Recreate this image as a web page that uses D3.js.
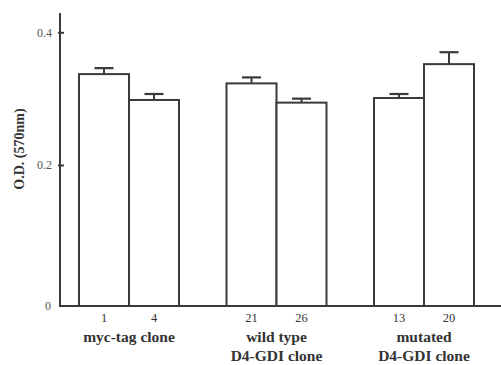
<!DOCTYPE html>
<html>
<head>
<meta charset="utf-8">
<script src="https://cdn.jsdelivr.net/npm/d3@7"></script>
<style>
html,body{margin:0;padding:0;background:#fff;}
svg{display:block;}
text{font-family:"Liberation Serif","DejaVu Serif",serif;}
</style>
</head>
<body>
<svg id="chart" width="501" height="365"></svg>
<script>
// Data
const groups = ["myc-tag clone", "wild type\nD4-GDI clone", "mutated\nD4-GDI clone"];
const clones = [["1", "4"], ["21", "26"], ["13", "20"]];
const values = [[0.337, 0.298], [0.323, 0.294], [0.301, 0.352]];
const errors = [[0.009, 0.009], [0.009, 0.006], [0.006, 0.018]];
const yTicks = [0, 0.2, 0.4];
const yTickLabels = ["0", "0.2", "0.4"];
const yLabel = "O.D. (570nm)";

const svg = d3.select("#chart");
const stroke = "#3a3a3a";
const textColor = "#333333";

// y scale (figure axis is slightly broken near zero; piecewise linear)
const y = d3.scaleLinear().domain([0, 0.2, 0.4]).range([306, 165, 32.3]);
const x0 = d3.scaleBand().domain(d3.range(groups.length)).range([79, 474]).paddingInner(0.322).paddingOuter(0);
const x1 = d3.scaleBand().domain([0, 1]).range([0, x0.bandwidth()]).padding(0);

const bars = [];
groups.forEach((g, gi) => {
  values[gi].forEach((v, bi) => {
    bars.push({gi, bi, v, e: errors[gi][bi], label: clones[gi][bi]});
  });
});

// error bars
const capW = 19;
svg.append("g").selectAll("g").data(bars).join("g").each(function(d) {
  const cx = x0(d.gi) + x1(d.bi) + x1.bandwidth() / 2;
  const g = d3.select(this);
  g.append("line").attr("x1", cx).attr("x2", cx).attr("y1", y(d.v)).attr("y2", y(d.v + d.e))
    .attr("stroke", stroke).attr("stroke-width", 2);
  g.append("line").attr("x1", cx - capW / 2).attr("x2", cx + capW / 2).attr("y1", y(d.v + d.e)).attr("y2", y(d.v + d.e))
    .attr("stroke", stroke).attr("stroke-width", 2.2);
});

// bars
svg.append("g").selectAll("rect").data(bars).join("rect")
  .attr("x", d => x0(d.gi) + x1(d.bi))
  .attr("width", x1.bandwidth())
  .attr("y", d => y(d.v))
  .attr("height", d => y(0) - y(d.v))
  .attr("fill", "#fff")
  .attr("stroke", stroke)
  .attr("stroke-width", 2);

// y axis
const yAxis = d3.axisLeft(y).tickValues(yTicks.slice(1)).tickFormat((d, i) => yTickLabels[i + 1]).tickSize(0).tickPadding(8);
const ya = svg.append("g").attr("transform", "translate(60,0)").call(yAxis);
ya.select(".domain").remove();
ya.selectAll("text").attr("font-size", 12).style("font-family", "Liberation Serif, serif").attr("fill", "#555");
ya.selectAll(".tick").append("line").attr("x1", -2).attr("x2", 4).attr("stroke", stroke).attr("stroke-width", 2);
svg.append("line").attr("x1", 60).attr("x2", 60).attr("y1", 13).attr("y2", y(0) + 1)
  .attr("stroke", stroke).attr("stroke-width", 2);
svg.append("text").attr("x", 51).attr("y", y(0)).attr("dy", "0.35em").attr("text-anchor", "end")
  .attr("font-size", 12).attr("fill", "#555").text(yTickLabels[0]);

// baseline
svg.append("line").attr("x1", 59).attr("x2", 501).attr("y1", y(0)).attr("y2", y(0))
  .attr("stroke", stroke).attr("stroke-width", 2);

// clone labels
svg.append("g").selectAll("text").data(bars).join("text")
  .attr("x", d => x0(d.gi) + x1(d.bi) + x1.bandwidth() / 2)
  .attr("y", 322).attr("text-anchor", "middle").attr("font-size", 12.5)
  .attr("fill", textColor).text(d => d.label);

// group labels
groups.forEach((g, gi) => {
  const cx = x0(gi) + x0.bandwidth() / 2;
  g.split("\n").forEach((line, li) => {
    svg.append("text").attr("x", cx).attr("y", 342 + li * 19).attr("text-anchor", "middle")
      .attr("font-size", 15.5).attr("font-weight", "bold").attr("fill", textColor).text(line);
  });
});

// y label
svg.append("text").attr("transform", "translate(23.5,149) rotate(-90)").attr("text-anchor", "middle")
  .attr("font-size", 14).attr("font-weight", "bold").attr("fill", textColor).text(yLabel);
</script>
</body>
</html>
